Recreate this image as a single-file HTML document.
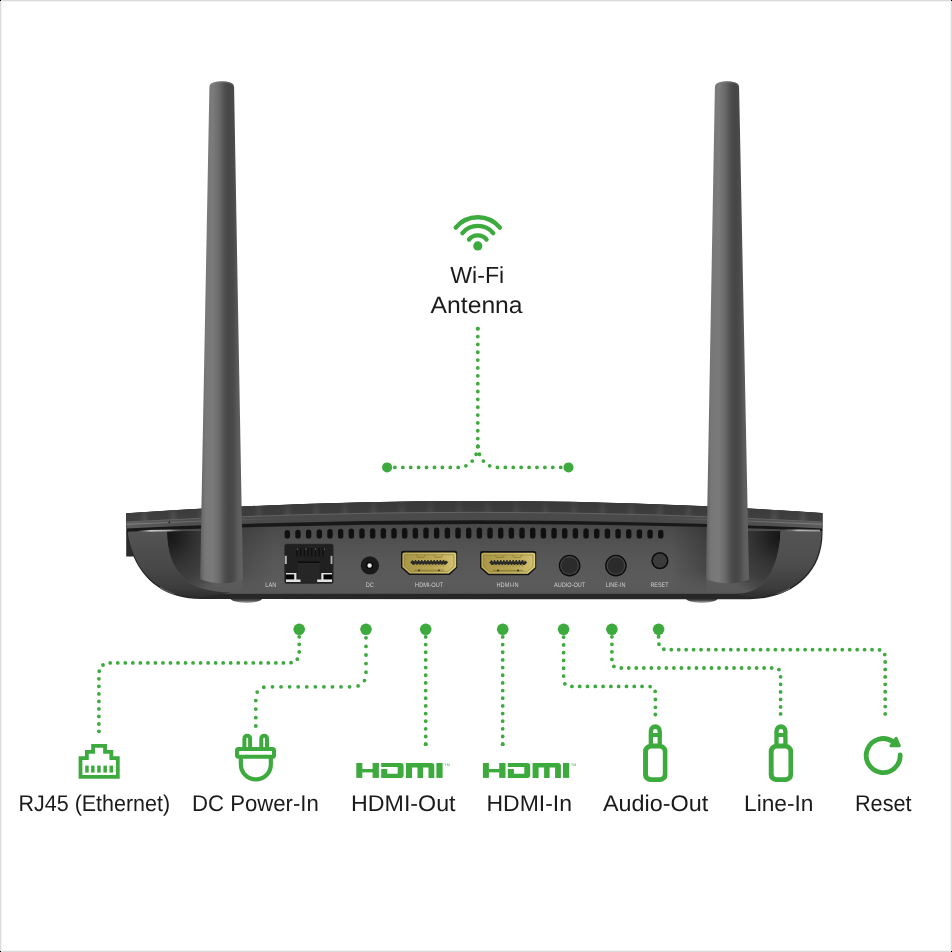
<!DOCTYPE html>
<html><head><meta charset="utf-8"><style>
html,body{margin:0;padding:0;background:#fff;width:952px;height:952px;overflow:hidden}
svg{display:block;will-change:transform}
.lbl{font-family:"Liberation Sans",sans-serif;font-size:22.7px;fill:#1b1b1b}
text{text-rendering:geometricPrecision}
.sm{font-family:"Liberation Sans",sans-serif;font-size:6.4px;fill:#cfcfcf}
</style></head><body>
<svg width="952" height="952" viewBox="0 0 952 952">
<defs>
  <linearGradient id="ant" x1="0" x2="1" y1="0" y2="0">
    <stop offset="0" stop-color="#5a5a5a"/>
    <stop offset="0.05" stop-color="#6a6a6a"/>
    <stop offset="0.12" stop-color="#777"/>
    <stop offset="0.3" stop-color="#7b7b7b"/>
    <stop offset="0.45" stop-color="#686868"/>
    <stop offset="0.58" stop-color="#4e4e4e"/>
    <stop offset="0.68" stop-color="#454545"/>
    <stop offset="0.78" stop-color="#4b4b4b"/>
    <stop offset="0.9" stop-color="#5e5e5e"/>
    <stop offset="1" stop-color="#626262"/>
  </linearGradient>
  <linearGradient id="panel" gradientUnits="userSpaceOnUse" x1="0" x2="0" y1="522" y2="594">
    <stop offset="0" stop-color="#474747"/>
    <stop offset="0.25" stop-color="#505050"/>
    <stop offset="0.55" stop-color="#585858"/>
    <stop offset="0.85" stop-color="#5b5b5b"/>
    <stop offset="1" stop-color="#575757"/>
  </linearGradient>
  <linearGradient id="gold" x1="0" x2="1" y1="0" y2="0">
    <stop offset="0" stop-color="#bfac58"/>
    <stop offset="0.5" stop-color="#c8b664"/>
    <stop offset="1" stop-color="#dccd7c"/>
  </linearGradient>

  <linearGradient id="foot" x1="0" x2="0" y1="0" y2="1">
    <stop offset="0.5" stop-color="#2a2a2a"/>
    <stop offset="0.75" stop-color="#505050"/>
    <stop offset="1" stop-color="#bdbdbd"/>
  </linearGradient>
  <radialGradient id="recL" gradientUnits="userSpaceOnUse" cx="168" cy="536" r="66">
    <stop offset="0" stop-color="#151515"/>
    <stop offset="0.15" stop-color="#1e1e1e"/>
    <stop offset="0.37" stop-color="#2e2e2e"/>
    <stop offset="0.5" stop-color="#363636"/>
    <stop offset="0.7" stop-color="#3e3e3e"/>
    <stop offset="0.88" stop-color="#474747" stop-opacity="0.8"/>
    <stop offset="1" stop-color="#4c4c4c" stop-opacity="0"/>
  </radialGradient>
  <radialGradient id="recR" gradientUnits="userSpaceOnUse" cx="781" cy="536" r="66">
    <stop offset="0" stop-color="#151515"/>
    <stop offset="0.15" stop-color="#1e1e1e"/>
    <stop offset="0.37" stop-color="#2e2e2e"/>
    <stop offset="0.5" stop-color="#363636"/>
    <stop offset="0.7" stop-color="#3e3e3e"/>
    <stop offset="0.88" stop-color="#474747" stop-opacity="0.8"/>
    <stop offset="1" stop-color="#4c4c4c" stop-opacity="0"/>
  </radialGradient>
  <linearGradient id="capL" gradientUnits="userSpaceOnUse" x1="0" x2="0" y1="531" y2="598">
    <stop offset="0" stop-color="#545454"/>
    <stop offset="0.55" stop-color="#484848"/>
    <stop offset="0.85" stop-color="#3c3c3c"/>
    <stop offset="1" stop-color="#2c2c2c"/>
  </linearGradient>
  <linearGradient id="capR" gradientUnits="userSpaceOnUse" x1="0" x2="0" y1="531" y2="598">
    <stop offset="0" stop-color="#545454"/>
    <stop offset="0.5" stop-color="#4d4d4d"/>
    <stop offset="0.85" stop-color="#3c3c3c"/>
    <stop offset="1" stop-color="#2c2c2c"/>
  </linearGradient>
  <linearGradient id="band" gradientUnits="userSpaceOnUse" x1="126" x2="822" y1="0" y2="0">
    <stop offset="0" stop-color="#5e5e5e"/>
    <stop offset="0.08" stop-color="#505050"/>
    <stop offset="0.2" stop-color="#4a4a4a"/>
    <stop offset="0.8" stop-color="#4a4a4a"/>
    <stop offset="0.92" stop-color="#505050"/>
    <stop offset="1" stop-color="#5c5c5c"/>
  </linearGradient>
  <linearGradient id="bandhl" gradientUnits="userSpaceOnUse" x1="126" x2="822" y1="0" y2="0">
    <stop offset="0" stop-color="#8a8a8a" stop-opacity="0.9"/>
    <stop offset="0.12" stop-color="#7a7a7a" stop-opacity="0.5"/>
    <stop offset="0.25" stop-color="#666" stop-opacity="0"/>
    <stop offset="0.75" stop-color="#666" stop-opacity="0"/>
    <stop offset="0.88" stop-color="#7a7a7a" stop-opacity="0.5"/>
    <stop offset="1" stop-color="#8a8a8a" stop-opacity="0.9"/>
  </linearGradient>
  <linearGradient id="lidtop" gradientUnits="userSpaceOnUse" x1="0" x2="0" y1="500" y2="521">
    <stop offset="0" stop-color="#383838"/>
    <stop offset="1" stop-color="#404040"/>
  </linearGradient>
  <linearGradient id="hlL" gradientUnits="userSpaceOnUse" x1="137" x2="183" y1="0" y2="0">
    <stop offset="0" stop-color="#888" stop-opacity="0"/>
    <stop offset="0.3" stop-color="#c8c8c8"/>
    <stop offset="0.7" stop-color="#aaa"/>
    <stop offset="1" stop-color="#777" stop-opacity="0"/>
  </linearGradient>
  <linearGradient id="hlR" gradientUnits="userSpaceOnUse" x1="783" x2="820" y1="0" y2="0">
    <stop offset="0" stop-color="#888" stop-opacity="0"/>
    <stop offset="0.4" stop-color="#bbb"/>
    <stop offset="1" stop-color="#999"/>
  </linearGradient>

  <linearGradient id="stripeG" x1="0" x2="1" y1="0" y2="0">
    <stop offset="0.3" stop-color="#fff" stop-opacity="0"/>
    <stop offset="0.5" stop-color="#fff" stop-opacity="0.09"/>
    <stop offset="0.7" stop-color="#fff" stop-opacity="0"/>
  </linearGradient>
  <pattern id="stripes" patternUnits="userSpaceOnUse" x="244.6" y="0" width="28.63" height="952">
    <rect width="28.63" height="952" fill="url(#stripeG)"/>
  </pattern>
  <linearGradient id="stripeFade" gradientUnits="userSpaceOnUse" x1="0" x2="0" y1="500" y2="521">
    <stop offset="0" stop-color="#fff" stop-opacity="0.3"/>
    <stop offset="1" stop-color="#fff" stop-opacity="1"/>
  </linearGradient>
  <mask id="stripeMask"><rect x="0" y="480" width="952" height="60" fill="url(#stripeFade)"/></mask>
  <linearGradient id="gold2" x1="0" x2="1" y1="0" y2="0">
    <stop offset="0" stop-color="#a9974a"/>
    <stop offset="0.6" stop-color="#bba855"/>
    <stop offset="1" stop-color="#d2c170"/>
  </linearGradient>
  <linearGradient id="shR" gradientUnits="userSpaceOnUse" x1="672" x2="707" y1="0" y2="0">
    <stop offset="0" stop-color="#000" stop-opacity="0"/>
    <stop offset="1" stop-color="#000" stop-opacity="0.22"/>
  </linearGradient>
  <linearGradient id="shL" gradientUnits="userSpaceOnUse" x1="242" x2="272" y1="0" y2="0">
    <stop offset="0" stop-color="#000" stop-opacity="0.14"/>
    <stop offset="1" stop-color="#000" stop-opacity="0"/>
  </linearGradient>
  <linearGradient id="shV" gradientUnits="userSpaceOnUse" x1="0" x2="0" y1="520" y2="592">
    <stop offset="0" stop-color="#fff"/>
    <stop offset="0.7" stop-color="#fff"/>
    <stop offset="1" stop-color="#000"/>
  </linearGradient>
  <mask id="shMask"><rect x="0" y="515" width="952" height="80" fill="url(#shV)"/></mask>
</defs>
<rect width="952" height="952" fill="#fff"/>

<!-- ROUTER BODY -->
<g id="router">
  <!-- feet -->
  <ellipse cx="246.3" cy="598" rx="16" ry="5" fill="url(#foot)"/>
  <ellipse cx="701.8" cy="598" rx="16" ry="5" fill="url(#foot)"/>
  <!-- silhouette base -->
  <clipPath id="sil"><path d="M126,513.3 Q474.25,488.7 822.5,513 L822.5,530.5 C823.9,575 789.7,599.2 749.6,599.2 L201.1,599.1 C132.5,599.1 126.6,532 126.6,531.6 Z"/></clipPath>
  <rect x="126.2" y="531" width="7.5" height="25.5" fill="#2c2c2c"/>
  <g clip-path="url(#sil)">
  <rect x="120" y="480" width="710" height="130" fill="#272727"/>
  <!-- front panel -->
  <rect x="160" y="518" width="630" height="75.8" fill="url(#panel)"/>
  <rect x="672" y="520" width="34.5" height="74" fill="url(#shR)" mask="url(#shMask)"/>
  <rect x="242.5" y="520" width="30" height="74" fill="url(#shL)" mask="url(#shMask)"/>
  <!-- left recess -->
  <path d="M167,531 C167,573.5 189.2,592.4 231,592.4 L252,592.4 L252,531 Z" fill="url(#recL)"/>
  <!-- right recess -->
  <path d="M780.5,531 C780.5,535.9 779.25,593.6 737.2,593.6 L697,593.6 L697,531 Z" fill="url(#recR)"/>
  <!-- left end cap -->
  <path d="M127.7,531.6 C127.9,534 134,597.3 201.1,597.5 L231,592.4 C189.2,592.4 167,573.5 167,531 Z" fill="url(#capL)"/>
  
  <!-- right end cap -->
  <path d="M821.3,530.5 C822.5,573.5 789,597.6 749.6,597.6 L737.2,593.6 C779.25,593.6 780.5,535.9 780.5,531 Z" fill="url(#capR)"/>
  <!-- lid -->
  <path d="M126,513.3 Q474.25,488.7 822.5,513 V531 Q474.25,516.6 126,531.5 Z" fill="#181818"/>
  <path d="M126,513.3 Q474.25,488.7 822.5,513 V528.4 Q474.25,512.2 126,528.4 Z" fill="url(#band)"/>
  <path d="M126,513.3 Q474.25,488.7 822.5,513 V522 Q474.25,502.6 126,522 Z" fill="url(#lidtop)"/>
  <path d="M126,513.3 Q474.25,488.7 822.5,513 V522 Q474.25,502.6 126,522 Z" fill="url(#stripes)" mask="url(#stripeMask)"/>
  <path d="M126,522 Q474.25,502.6 822.5,522" fill="none" stroke="#646464" stroke-width="1"/>
  <path d="M126,524.3 Q474.25,507.5 822.5,524.3" fill="none" stroke="url(#bandhl)" stroke-width="1"/>
  <circle cx="169.3" cy="522.2" r="0.8" fill="#111"/>
  <!-- highlights under lid -->
  <path d="M137,531.2 Q160,530.6 183,530.4" stroke="url(#hlL)" stroke-width="1.8" fill="none"/>
  <path d="M783,530.2 Q800,530.4 820,530.6" stroke="url(#hlR)" stroke-width="1.8" fill="none"/>
  <!-- vents -->
  <g fill="#101010"><rect x="284.60" y="530.02" width="5.4" height="8.58" rx="2.7"/><rect x="295.27" y="529.73" width="5.4" height="8.87" rx="2.7"/><rect x="305.94" y="529.47" width="5.4" height="9.13" rx="2.7"/><rect x="316.61" y="529.21" width="5.4" height="9.39" rx="2.7"/><rect x="327.28" y="528.98" width="5.4" height="9.62" rx="2.7"/><rect x="337.95" y="528.76" width="5.4" height="9.84" rx="2.7"/><rect x="348.62" y="528.56" width="5.4" height="10.04" rx="2.7"/><rect x="359.29" y="528.37" width="5.4" height="10.23" rx="2.7"/><rect x="369.96" y="528.20" width="5.4" height="10.40" rx="2.7"/><rect x="380.63" y="528.05" width="5.4" height="10.55" rx="2.7"/><rect x="391.30" y="527.91" width="5.4" height="10.69" rx="2.7"/><rect x="401.97" y="527.79" width="5.4" height="10.81" rx="2.7"/><rect x="412.64" y="527.68" width="5.4" height="10.92" rx="2.7"/><rect x="423.31" y="527.59" width="5.4" height="11.01" rx="2.7"/><rect x="433.98" y="527.52" width="5.4" height="11.08" rx="2.7"/><rect x="444.65" y="527.47" width="5.4" height="11.13" rx="2.7"/><rect x="455.32" y="527.43" width="5.4" height="11.17" rx="2.7"/><rect x="465.99" y="527.41" width="5.4" height="11.19" rx="2.7"/><rect x="476.66" y="527.40" width="5.4" height="11.20" rx="2.7"/><rect x="487.33" y="527.41" width="5.4" height="11.19" rx="2.7"/><rect x="498.00" y="527.44" width="5.4" height="11.16" rx="2.7"/><rect x="508.67" y="527.48" width="5.4" height="11.12" rx="2.7"/><rect x="519.34" y="527.54" width="5.4" height="11.06" rx="2.7"/><rect x="530.01" y="527.62" width="5.4" height="10.98" rx="2.7"/><rect x="540.68" y="527.71" width="5.4" height="10.89" rx="2.7"/><rect x="551.35" y="527.82" width="5.4" height="10.78" rx="2.7"/><rect x="562.02" y="527.94" width="5.4" height="10.66" rx="2.7"/><rect x="572.69" y="528.08" width="5.4" height="10.52" rx="2.7"/><rect x="583.36" y="528.24" width="5.4" height="10.36" rx="2.7"/><rect x="594.03" y="528.41" width="5.4" height="10.19" rx="2.7"/><rect x="604.70" y="528.61" width="5.4" height="9.99" rx="2.7"/><rect x="615.37" y="528.81" width="5.4" height="9.79" rx="2.7"/><rect x="626.04" y="529.04" width="5.4" height="9.56" rx="2.7"/><rect x="636.71" y="529.28" width="5.4" height="9.32" rx="2.7"/><rect x="647.38" y="529.53" width="5.4" height="9.07" rx="2.7"/><rect x="658.05" y="529.80" width="5.4" height="8.80" rx="2.7"/></g>
  <!-- RJ45 port -->
  <rect x="284.7" y="544.1" width="48.5" height="39.4" rx="1.8" fill="#202020" stroke="#2c2c2c" stroke-width="0.6"/>
  <g stroke="#0e0e0e" stroke-width="1.3">
    <path d="M297,548 V556.5 M300.7,548 V556.5 M304.4,548 V556.5 M308.1,548 V556.5 M311.8,548 V556.5 M315.5,548 V556.5 M319.2,548 V556.5 M322.9,548 V556.5"/>
  </g>
  <g fill="#8a8a8a"><circle cx="297.3" cy="549.1" r="0.7"/><circle cx="305.8" cy="549.1" r="0.7"/><circle cx="315.6" cy="549.1" r="0.7"/><circle cx="324.4" cy="549.1" r="0.7"/></g>
  <rect x="298" y="561.4" width="21.7" height="1.6" fill="#0d0d0d"/>
  <rect x="298" y="563" width="21.7" height="19.5" fill="#262626"/>
  <rect x="284.8" y="555.8" width="2" height="8.2" fill="#b5b5b5"/>
  <rect x="330.6" y="555.8" width="1.8" height="8.2" fill="#b5b5b5"/>
  <path d="M286,573.1 H296.4 V579.4 H300.5 V581.9 H286 Z" fill="#e2e2e2"/>
  <rect x="286" y="574.4" width="8.2" height="5" fill="#050505"/>
  <path d="M332,573.1 H321.3 V579.4 H317.2 V581.9 H332 Z" fill="#e2e2e2"/>
  <rect x="323.5" y="574.4" width="8.5" height="5" fill="#050505"/>
  <!-- DC jack -->
  <circle cx="370.1" cy="565.6" r="9.3" fill="#6a6a6a" opacity="0.6"/>
  <circle cx="369.9" cy="565.4" r="9.2" fill="#1a1a1a"/>
  <circle cx="369.7" cy="565.5" r="3.6" fill="#050505"/>
  <circle cx="369.6" cy="565.5" r="2.2" fill="#eeeeee"/>
  <!-- HDMI ports -->
  <g id="hdmiport">
    <path d="M401,553 Q401,550.8 403.2,550.8 H455 Q457.2,550.8 457.2,553 V567.8 L449.6,575 H409.2 L401,567.8 Z" fill="#141414"/>
    <path d="M402.4,554.5 Q402.4,552.5 404.4,552.5 H454.2 Q456.2,552.5 456.2,554.5 V567 L448.8,573.6 H409.8 L402.4,567 Z" fill="url(#gold)"/>
    <path d="M404.6,554.7 H454 V566.2 L447.8,571.6 H410.6 L404.6,566.2 Z" fill="url(#gold2)" stroke="#7d6d2c" stroke-width="0.5"/>
    <path d="M416.2,554.7 L417.6,557.2 H424 L425.4,554.7 M433.6,554.7 L435,557.2 H441.4 L442.8,554.7" fill="none" stroke="#7a6a2a" stroke-width="0.6"/>
    <path d="M410.2,562.3 L412.7,559.9 H445.6 L448.1,562.3 L445.6,564.8 H412.7 Z" fill="#2a2a26"/>
    <g fill="#c2ae5a"><rect x="413.20" y="559.3" width="1.6" height="1.9"/><rect x="416.30" y="559.3" width="1.6" height="1.9"/><rect x="419.40" y="559.3" width="1.6" height="1.9"/><rect x="422.50" y="559.3" width="1.6" height="1.9"/><rect x="425.60" y="559.3" width="1.6" height="1.9"/><rect x="428.70" y="559.3" width="1.6" height="1.9"/><rect x="431.80" y="559.3" width="1.6" height="1.9"/><rect x="434.90" y="559.3" width="1.6" height="1.9"/><rect x="438.00" y="559.3" width="1.6" height="1.9"/><rect x="441.10" y="559.3" width="1.6" height="1.9"/><rect x="444.20" y="559.3" width="1.6" height="1.9"/></g>
    <g fill="#a89648"><rect x="414.70" y="563.9" width="1.5" height="2.8"/><rect x="417.80" y="563.9" width="1.5" height="2.8"/><rect x="420.90" y="563.9" width="1.5" height="2.8"/><rect x="424.00" y="563.9" width="1.5" height="2.8"/><rect x="427.10" y="563.9" width="1.5" height="2.8"/><rect x="430.20" y="563.9" width="1.5" height="2.8"/><rect x="433.30" y="563.9" width="1.5" height="2.8"/><rect x="436.40" y="563.9" width="1.5" height="2.8"/><rect x="439.50" y="563.9" width="1.5" height="2.8"/><rect x="442.60" y="563.9" width="1.5" height="2.8"/></g>
    <path d="M414,570.2 H444" stroke="#6f6128" stroke-width="0.6"/>
    <circle cx="419" cy="570.3" r="0.9" fill="#2a2616"/><circle cx="439" cy="570.3" r="0.9" fill="#2a2616"/>
  </g>
  <use href="#hdmiport" x="79" y="0.2"/>
  <!-- audio jacks -->
  <g id="aj">
    <circle cx="569.6" cy="565.6" r="10.8" fill="#0c0c0c"/>
    <circle cx="569.6" cy="565.6" r="9.5" fill="#444"/>
    <circle cx="569.6" cy="565.6" r="8.2" fill="#2b2b2b"/>
  </g>
  <use href="#aj" x="46.3"/>
  <!-- reset -->
  <circle cx="659.9" cy="560.7" r="8.6" fill="#0a0a0a"/>
  <circle cx="659.9" cy="560.7" r="7.1" fill="#3b3b3b"/>
  </g>
  <!-- tiny labels -->
  <g class="sm">
    <text x="265.3" y="586.6" textLength="11" lengthAdjust="spacingAndGlyphs">LAN</text>
    <text x="365.8" y="586.6" textLength="8.1" lengthAdjust="spacingAndGlyphs">DC</text>
    <text x="415.1" y="586.6" textLength="28.1" lengthAdjust="spacingAndGlyphs">HDMI-OUT</text>
    <text x="496.5" y="586.6" textLength="22" lengthAdjust="spacingAndGlyphs">HDMI-IN</text>
    <text x="554.1" y="586.6" textLength="31.1" lengthAdjust="spacingAndGlyphs">AUDIO-OUT</text>
    <text x="605.7" y="586.6" textLength="19.8" lengthAdjust="spacingAndGlyphs">LINE-IN</text>
    <text x="650.4" y="586.6" textLength="18.1" lengthAdjust="spacingAndGlyphs">RESET</text>
  </g>
</g>

<!-- ANTENNAS -->
<path d="M209.4,87.5 Q209.4,83.4 213.2,82.4 Q221.75,80.3 230.3,82.4 Q234.1,83.4 234.1,87.5 L242.9,579.5 Q221.5,587.5 200.1,579 Z" fill="url(#ant)"/>
<path d="M210.6,85.2 Q212,83.3 215,82.8 Q221.75,81.4 228.5,82.8 Q231.5,83.3 232.9,85.2" fill="none" stroke="#8a8a8a" stroke-opacity="0.45" stroke-width="1"/>
<path d="M714.9,87.5 Q714.9,83.4 718.7,82.4 Q727,80.3 735.3,82.4 Q739.1,83.4 739.1,87.5 L749,579.5 Q727.5,587.5 706,579 Z" fill="url(#ant)"/>
<path d="M716.1,85.2 Q717.5,83.3 720.5,82.8 Q727,81.4 733.5,82.8 Q736.5,83.3 737.9,85.2" fill="none" stroke="#8a8a8a" stroke-opacity="0.45" stroke-width="1"/>

<!-- GREEN ANNOTATIONS -->
<g fill="none" stroke="#3caa3c" stroke-width="3.8" stroke-linecap="round" stroke-linejoin="round">
  <path stroke-dasharray="0 7.8513" d="M477.8,328.7 V446.5"/>
  <path stroke-dasharray="0 7.9098" d="M477.8,446.5 C477.3,456 471,467.4 458.4,467.4 H387.1"/>
  <path stroke-dasharray="0 7.9098" d="M477.8,446.5 C478.3,456 484.6,467.4 497.2,467.4 H568.5"/>
  <path stroke-dasharray="0 7.5274" d="M299.2,629.3 V651.8 Q299.2,662.9 288.3,662.9 H111 Q98.9,662.9 98.9,675 V731.3"/>
  <path stroke-dasharray="0 8.5668" d="M366,629.3 V673 Q366,686.8 352,686.8 H268 Q255.8,686.8 255.8,699 V726"/>
  <path stroke-dasharray="0 7.6580" d="M425.7,629.3 V744.2"/>
  <path stroke-dasharray="0 7.6580" d="M502.7,629.3 V744.2"/>
  <path stroke-dasharray="0 7.7906" d="M563.6,629.3 V679 Q563.6,686.4 571,686.4 H648 Q655.4,686.4 655.4,693.8 V714.5"/>
  <path stroke-dasharray="0 7.5190" d="M611.9,629.3 V661 Q611.9,668 619,668 H774 Q780.6,668 780.6,674.6 V713.9"/>
  <path stroke-dasharray="0 7.4342" d="M658.6,629.3 V641 Q658.6,649.7 667.3,649.7 H877 Q885.2,649.7 885.2,657.9 V713.9"/>
</g>
<g fill="#3caa3c">
  <circle cx="477.8" cy="328.7" r="1.9"/>
  <circle cx="98.9" cy="731.3" r="1.9"/>
  <circle cx="255.8" cy="726" r="1.9"/>
  <circle cx="425.7" cy="744.2" r="1.9"/>
  <circle cx="502.7" cy="744.2" r="1.9"/>
  <circle cx="655.4" cy="714.5" r="1.9"/>
  <circle cx="780.6" cy="713.9" r="1.9"/>
  <circle cx="885.2" cy="713.9" r="1.9"/>
  <circle cx="387.1" cy="467.4" r="5"/>
  <circle cx="568.5" cy="467.4" r="5"/>
  <circle cx="299.2" cy="629.3" r="5.8"/>
  <circle cx="366" cy="629.3" r="5.8"/>
  <circle cx="425.7" cy="629.3" r="5.8"/>
  <circle cx="502.7" cy="629.3" r="5.8"/>
  <circle cx="563.6" cy="629.3" r="5.8"/>
  <circle cx="611.9" cy="629.3" r="5.8"/>
  <circle cx="658.6" cy="629.3" r="5.8"/>
</g>

<!-- WIFI ICON -->
<g fill="none" stroke="#3caa3c" stroke-width="4.4" stroke-linecap="round">
  <path d="M469.1,239.5 A11.2,11.2 0 0 1 486.5,239.5"/>
  <path d="M462.4,233.1 A20.1,20.1 0 0 1 493.2,233.1"/>
  <path d="M455.7,227.6 A28.8,28.8 0 0 1 499.9,227.6"/>
</g>
<circle cx="477.8" cy="245.9" r="4.6" fill="#3caa3c"/>

<text class="lbl" x="450.3" y="283.4" textLength="53.8" lengthAdjust="spacingAndGlyphs" style="font-size:23.2px">Wi-Fi</text>
<text class="lbl" x="430.6" y="312.7" textLength="92" lengthAdjust="spacingAndGlyphs" style="font-size:23.6px">Antenna</text>

<!-- ICONS -->
<g fill="#3caa3c">
  <!-- RJ45 -->
  <path d="M80.5,776.8 V758.1 H86.85 V751.95 H93.1 V745.95 H105.05 V751.95 H111.35 V758.1 H117.8 V776.8 Z" fill="none" stroke="#3caa3c" stroke-width="3.8"/>
  <rect x="85.2" y="765.6" width="3.5" height="7"/>
  <rect x="91.1" y="765.6" width="3.5" height="7"/>
  <rect x="97.2" y="765.6" width="3.5" height="7"/>
  <rect x="103.4" y="765.6" width="3.5" height="7"/>
  <rect x="109.5" y="765.6" width="3.5" height="7"/>
</g>
<!-- plug -->
<g fill="none" stroke="#3caa3c" stroke-width="4">
  <path d="M244.4,748 V738.5 A2.85,2.85 0 0 1 250.1,738.5 V748"/>
  <path d="M261.3,748 V738.5 A2.85,2.85 0 0 1 267,738.5 V748"/>
  <rect x="237" y="749.1" width="37" height="7.7" rx="1.5"/>
  <path d="M240.85,757 V764.4 A15,15 0 0 0 270.85,764.4 V757" stroke-width="4.2"/>
</g>
<!-- HDMI logos -->
<g id="hdmi" fill="#3caa3c">
  <rect x="356.3" y="763" width="6" height="14.9"/>
  <rect x="372.6" y="763" width="6.3" height="14.9"/>
  <rect x="362" y="769" width="11" height="3.4"/>
  <path fill-rule="evenodd" d="M381.2,763 H400.8 Q403.6,763 403.6,765.8 V775.1 Q403.6,777.9 400.8,777.9 H381.2 Z M381.2,766.9 V769 H387.3 V773.7 H397.7 V766.9 Z"/>
  <path d="M406,763 H431.5 Q434.3,763 434.3,765.8 V777.9 H428.5 V767.5 H423 V777.9 H417.5 V767.5 H412 V777.9 H406 Z"/>
  <rect x="436.4" y="763" width="6.2" height="14.9"/>
  <text x="444.5" y="766.3" font-family="Liberation Sans" font-size="3.6">TM</text>
</g>
<use href="#hdmi" x="126.6"/>
<!-- audio jacks -->
<g id="jack" fill="#3caa3c" fill-rule="evenodd">
  <path d="M648.7,747 V730.9 A6.6,6.6 0 0 1 661.9,730.9 V747 Z M653,733 V731.4 A2.3,2.3 0 0 1 657.6,731.4 V733 Z M653,737.1 V743.4 H657.6 V737.1 Z"/>
  <path d="M650.1,744.1 H660.4 A7,7 0 0 1 667.4,751.1 V774.9 A7,7 0 0 1 660.4,781.9 H650.1 A7,7 0 0 1 643.1,774.9 V751.1 A7,7 0 0 1 650.1,744.1 Z M651.5,748.4 A3.5,3.5 0 0 0 648,751.9 V773.8 A3.5,3.5 0 0 0 651.5,777.3 H659.3 A3.5,3.5 0 0 0 662.8,773.8 V751.9 A3.5,3.5 0 0 0 659.3,748.4 Z"/>
</g>
<use href="#jack" x="125.65"/>
<!-- reset -->
<path d="M900.2,755 A17,17 0 1 1 893,741.7" fill="none" stroke="#3caa3c" stroke-width="4.8" stroke-linecap="round"/>
<path d="M890.9,745.8 L899.3,745.8 L896.1,738.4 Z" fill="#3caa3c" stroke="#3caa3c" stroke-width="3" stroke-linejoin="round"/>

<!-- LABELS -->
<text class="lbl" x="18.6" y="810.5" textLength="151.5" lengthAdjust="spacingAndGlyphs">RJ45 (Ethernet)</text>
<text class="lbl" x="192" y="810.5" textLength="126.8" lengthAdjust="spacingAndGlyphs">DC Power-In</text>
<text class="lbl" x="351" y="810.5" textLength="104.5" lengthAdjust="spacingAndGlyphs">HDMI-Out</text>
<text class="lbl" x="486.5" y="810.5" textLength="85.5" lengthAdjust="spacingAndGlyphs">HDMI-In</text>
<text class="lbl" x="603" y="810.5" textLength="105.3" lengthAdjust="spacingAndGlyphs">Audio-Out</text>
<text class="lbl" x="744" y="810.5" textLength="69.5" lengthAdjust="spacingAndGlyphs">Line-In</text>
<text class="lbl" x="855" y="810.5" textLength="56.5" lengthAdjust="spacingAndGlyphs">Reset</text>

<!-- frame -->
<rect x="0.5" y="0.5" width="951" height="951" fill="none" stroke="#dcdcdc" stroke-width="1"/>
<rect x="1.5" y="1.5" width="949" height="949" fill="none" stroke="#f2f2f2" stroke-width="1"/>
<rect x="0" y="0" width="1" height="1" fill="#000"/>
<rect x="951" y="0" width="1" height="1" fill="#000"/>
<rect x="0" y="951" width="1" height="1" fill="#000"/>
<rect x="951" y="951" width="1" height="1" fill="#000"/>
</svg>
</body></html>
